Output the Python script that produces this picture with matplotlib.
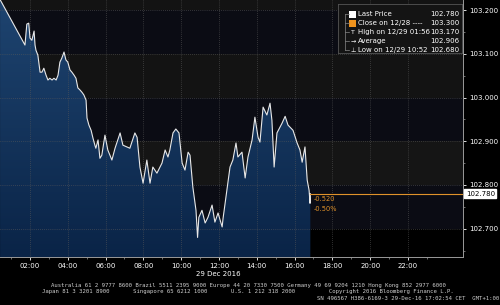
import matplotlib
matplotlib.use("Agg")
import matplotlib.pyplot as plt
import numpy as np

# intraday prices, minutes after midnight 29 Dec 2016
minutes = [25, 104, 110, 116, 120, 126, 133, 136, 139, 145, 152, 158, 164, 171, 177,
           183, 190, 196, 203, 209, 215, 221, 228, 234, 240, 247, 253, 260, 266, 272,
           279, 285, 291, 298, 301, 307, 314, 320, 326, 329, 336, 342, 348, 358, 367,
           380, 390, 406, 415, 437, 453, 460, 469, 479, 491, 501, 510, 523, 539, 549,
           558, 564, 574, 583, 593, 603, 612, 622, 628, 637, 647, 652, 656, 666, 676,
           685, 698, 707, 717, 730, 733, 745, 755, 764, 774, 780, 793, 803, 812, 825,
           834, 844, 850, 860, 872, 882, 888, 895, 904, 920, 930, 939, 955, 968, 977,
           984, 993, 1000, 1006, 1009, 1010]
prices = [103.224, 103.120, 103.168, 103.170, 103.136, 103.131, 103.152, 103.120, 103.108,
          103.097, 103.058, 103.058, 103.067, 103.051, 103.040, 103.044, 103.040, 103.044,
          103.040, 103.051, 103.081, 103.090, 103.104, 103.086, 103.081, 103.063, 103.058,
          103.051, 103.044, 103.022, 103.017, 103.012, 103.006, 102.994, 102.953, 102.937,
          102.925, 102.907, 102.891, 102.884, 102.903, 102.861, 102.868, 102.914, 102.880,
          102.857, 102.884, 102.919, 102.891, 102.884, 102.919, 102.909, 102.841, 102.804,
          102.857, 102.804, 102.841, 102.827, 102.850, 102.880, 102.864, 102.880, 102.919,
          102.928, 102.919, 102.850, 102.834, 102.875, 102.868, 102.795, 102.742, 102.680,
          102.726, 102.742, 102.713, 102.726, 102.754, 102.715, 102.736, 102.704, 102.724,
          102.788, 102.841, 102.857, 102.896, 102.864, 102.875, 102.816, 102.864, 102.903,
          102.955, 102.909, 102.898, 102.978, 102.960, 102.987, 102.948, 102.841, 102.919,
          102.941, 102.957, 102.937, 102.925, 102.896, 102.880, 102.852, 102.887, 102.811,
          102.788, 102.758, 102.780]

last_price = 102.780
change_abs = "-0.520"
change_pct = "-0.50%"
legend_names = ["Last Price", "Close on 12/28 ----", "High on 12/29 01:56", "Average", "Low on 12/29 10:52"]
legend_values = ["102.780", "103.300", "103.170", "102.906", "102.680"]
x_ticks = [120, 240, 360, 480, 600, 720, 840, 960, 1080, 1200, 1320]
x_labels = ["02:00", "04:00", "06:00", "08:00", "10:00", "12:00", "14:00", "16:00", "18:00", "20:00", "22:00"]
y_ticks = [102.7, 102.8, 102.9, 103.0, 103.1, 103.2]

x = np.array(minutes)
y = np.array(prices)
xmin, xmax = 24.8, 1494.6
ymin, ymax = 102.635, 103.223

fig = plt.figure(figsize=(5, 3.05), dpi=100)
fig.patch.set_facecolor("black")
ax = fig.add_axes([0, 0.157, 0.926, 0.843])
ax.set_facecolor("#000000")

# horizontal background bands
bands = [(102.7, 102.8, "#0b0c14"), (102.8, 102.9, "#151515"), (102.9, 103.0, "#0b0c14"),
         (103.0, 103.1, "#131313"), (103.1, 103.2, "#0b0c14"), (103.2, 103.3, "#131313")]
for lo, hi, c in bands:
    ax.axhspan(lo, hi, color=c, zorder=0, lw=0)

# gradient area under the line
poly = ax.fill_between(x, y, ymin, color="none", zorder=1)
grad = np.linspace(1, 0, 256).reshape(-1, 1)
cmap = matplotlib.colors.LinearSegmentedColormap.from_list("b", ["#0a2447", "#1e4470"])
img = ax.imshow(grad, cmap=cmap, aspect="auto", extent=[xmin, xmax, ymin, ymax],
                origin="upper", zorder=1)
img.set_clip_path(poly.get_paths()[0], transform=ax.transData)
ax.plot(x, y, color="#e8e8e8", lw=0.8, zorder=3)

ax.set_xlim(xmin, xmax)
ax.set_ylim(ymin, ymax)

# grid
for t in x_ticks:
    ax.axvline(t, color="#5a5a5a", lw=0.5, ls=(0, (1, 2)), zorder=2)
for v in y_ticks:
    ax.axhline(v, color="#5a5a5a", lw=0.5, ls=(0, (1, 2)), zorder=2)

# last price line
ax.plot([x[-1], xmax], [last_price, last_price], color="#e0922a", lw=0.8, zorder=4)
ax.text(x[-1] + 12, last_price - 0.012, change_abs, color="#e0922a", fontsize=4.8, va="center")
ax.text(x[-1] + 12, last_price - 0.035, change_pct, color="#e0922a", fontsize=4.8, va="center")

# axes styling
for s in ["top", "left"]:
    ax.spines[s].set_visible(False)
for s in ["right", "bottom"]:
    ax.spines[s].set_color("#9a9a9a")
    ax.spines[s].set_linewidth(0.7)
ax.yaxis.tick_right()
ax.set_yticks(y_ticks)
ax.set_yticklabels(["%.3f" % v for v in y_ticks])
ax.set_yticks(np.arange(102.65, 103.25, 0.1), minor=True)
ax.set_xticks(x_ticks)
ax.set_xticklabels(x_labels)
ax.set_xticks(np.arange(60, 1440, 120), minor=True)
ax.tick_params(axis="both", colors="white", labelsize=5, length=2.5, width=0.6, pad=2)
ax.tick_params(axis="both", which="minor", colors="#9a9a9a", length=1.5, width=0.5)

# last price tag on axis
ax.text(1.006, (last_price - ymin) / (ymax - ymin), "102.780", transform=ax.transAxes,
        fontsize=5, color="black", va="center", ha="left",
        bbox=dict(boxstyle="square,pad=0.2", fc="white", ec="white"))

fig.text(0.436, 1 - 274 / 305, "29 Dec 2016", color="white", fontsize=5, ha="center", va="center")

# legend box
lg = fig.add_axes([338 / 500, 1 - 53 / 305, 124 / 500, 49 / 305])
lg.set_xlim(0, 124)
lg.set_ylim(49, 0)
lg.set_facecolor("#141414")
for s in lg.spines.values():
    s.set_color("#555555")
    s.set_linewidth(0.6)
lg.set_xticks([])
lg.set_yticks([])
rows = [10, 19, 28, 37, 46]
lg.plot([7, 7], [rows[0], rows[-1]], color="#888888", lw=0.5)
for r in rows:
    lg.plot([7, 11], [r, r], color="#888888", lw=0.5)
lg.add_patch(plt.Rectangle((11, rows[0] - 3.5), 7, 7, fc="white", ec="none"))
lg.add_patch(plt.Rectangle((11, rows[1] - 3.5), 7, 7, fc="#f0941e", ec="none"))
lg.text(15, rows[2], "T", color="white", fontsize=4.5, ha="center", va="center")
lg.text(15, rows[3], "→", color="white", fontsize=4.5, ha="center", va="center")
lg.text(15, rows[4], "⊥", color="white", fontsize=4.5, ha="center", va="center")
for r, name, val in zip(rows, legend_names, legend_values):
    lg.text(20, r, name, color="white", fontsize=5, va="center")
    lg.text(121, r, val, color="white", fontsize=5, va="center", ha="right")

# footer
foot = dict(color="#cfcfcf", fontsize=4.1, family="DejaVu Sans Mono")
fig.text(0.496, 1 - 286 / 305, "Australia 61 2 9777 8600 Brazil 5511 2395 9000 Europe 44 20 7330 7500 "
         "Germany 49 69 9204 1210 Hong Kong 852 2977 6000", ha="center", va="center", **foot)
fig.text(0.496, 1 - 292 / 305, "Japan 81 3 3201 8900       Singapore 65 6212 1000       "
         "U.S. 1 212 318 2000          Copyright 2016 Bloomberg Finance L.P.",
         ha="center", va="center", **foot)
fig.text(0.998, 1 - 298.5 / 305, "SN 496567 H386-6169-3 29-Dec-16 17:02:54 CET  GMT+1:00",
         ha="right", va="center", **foot)

fig.savefig("out.png", dpi=100, facecolor="black")
